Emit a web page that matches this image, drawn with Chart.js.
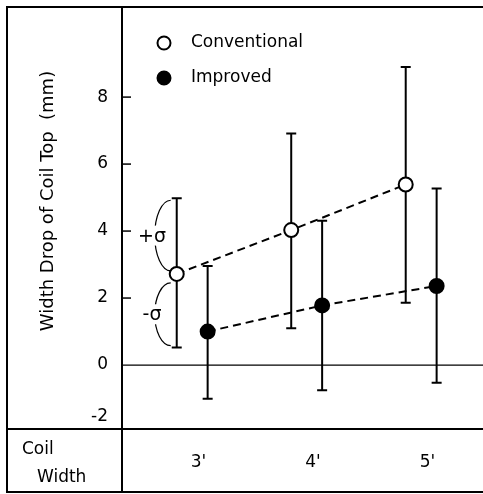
<!DOCTYPE html>
<html>
<head>
<meta charset="utf-8">
<script src="https://cdn.jsdelivr.net/npm/chart.js@4/dist/chart.umd.min.js"></script>
<style>
   body { margin: 0; background: #fff; }
   canvas { display: block; }
</style>
</head>
<body>
<canvas id="myChart" width="483" height="494"></canvas>
<script>
// coil width categories (feet)
let widths = [3, 4, 5];
let widthLabels = ["3'", "4'", "5'"];

// width drop of coil top (mm): mean, mean + sigma, mean - sigma
let convMean = [2.72, 4.03, 5.39];
let convUpper = [4.98, 6.91, 8.9];
let convLower = [0.52, 1.1, 1.86];

let impMean = [1.0, 1.78, 2.36];
let impUpper = [2.96, 4.31, 5.27];
let impLower = [-1.01, -0.75, -0.53];

let yTicks = [-2, 0, 2, 4, 6, 8];

// small shift so the two series sit side by side
let convShift = -0.19;
let impShift = 0.08;

let font = "17px 'DejaVu Sans'";

function toPoints(vals, shift) {
   return widths.map((w, i) => ({ x: w + shift, y: vals[i] }));
}

// frame, axis ticks, error bars, legend and labels
let figurePlugin = {
   id: "figure",
   beforeDatasetsDraw(chart) {
      let ctx = chart.ctx;
      let area = chart.chartArea;
      let xs = chart.scales.x;
      let ys = chart.scales.y;
      ctx.save();
      ctx.strokeStyle = "#000";

      // outer frame and table lines
      ctx.lineWidth = 2;
      ctx.beginPath();
      ctx.moveTo(chart.width, 7);
      ctx.lineTo(7, 7);
      ctx.lineTo(7, 492);
      ctx.lineTo(chart.width, 492);
      ctx.moveTo(area.left, 7);
      ctx.lineTo(area.left, 492);
      ctx.moveTo(7, area.bottom);
      ctx.lineTo(chart.width, area.bottom);
      ctx.stroke();

      // zero line
      ctx.lineWidth = 1.2;
      ctx.strokeStyle = "#000";
      let y0 = ys.getPixelForValue(0);
      ctx.beginPath();
      ctx.moveTo(area.left, y0);
      ctx.lineTo(area.right, y0);
      ctx.stroke();

      // y ticks and labels
      ctx.lineWidth = 1.5;
      ctx.fillStyle = "#000";
      ctx.font = font;
      ctx.textAlign = "right";
      ctx.textBaseline = "middle";
      yTicks.forEach((v) => {
         let py = ys.getPixelForValue(v);
         if (v > 0) {
            ctx.beginPath();
            ctx.moveTo(area.left, py);
            ctx.lineTo(area.left + 9, py);
            ctx.stroke();
         }
         ctx.fillText(String(v), 108, Math.min(py, area.bottom - 12));
      });

      // y axis title
      ctx.save();
      ctx.font = "18px 'DejaVu Sans'";
      ctx.translate(48, 201);
      ctx.rotate(-Math.PI / 2);
      ctx.textAlign = "center";
      ctx.fillText("Width Drop of Coil Top  (mm)", 0, 0);
      ctx.restore();

      // table row: coil width
      ctx.textAlign = "left";
      ctx.fillText("Coil", 22, 450);
      ctx.fillText("Width", 37, 478);
      ctx.textAlign = "center";
      widths.forEach((w, i) => {
         ctx.fillText(widthLabels[i], xs.getPixelForValue(w), 463);
      });

      // error bars
      ctx.lineWidth = 2;
      let bars = [
         [convUpper, convLower, convShift],
         [impUpper, impLower, impShift],
      ];
      bars.forEach(([up, low, shift]) => {
         widths.forEach((w, i) => {
            let px = xs.getPixelForValue(w + shift);
            let top = ys.getPixelForValue(up[i]);
            let bot = ys.getPixelForValue(low[i]);
            ctx.beginPath();
            ctx.moveTo(px, top);
            ctx.lineTo(px, bot);
            ctx.moveTo(px - 5, top);
            ctx.lineTo(px + 5, top);
            ctx.moveTo(px - 5, bot);
            ctx.lineTo(px + 5, bot);
            ctx.stroke();
         });
      });
      ctx.restore();
   },
   afterDatasetsDraw(chart) {
      let ctx = chart.ctx;
      let xs = chart.scales.x;
      let ys = chart.scales.y;
      ctx.save();

      // legend
      ctx.font = font;
      ctx.textAlign = "left";
      ctx.textBaseline = "middle";
      chart.data.datasets.forEach((ds, i) => {
         let ly = 43 + i * 35;
         ctx.beginPath();
         ctx.arc(164, ly, 6.5, 0, Math.PI * 2);
         ctx.fillStyle = ds.pointBackgroundColor;
         ctx.fill();
         ctx.lineWidth = 2;
         ctx.strokeStyle = "#000";
         ctx.stroke();
         ctx.fillStyle = "#000";
         ctx.fillText(ds.label, 191, ly);
      });

      // +sigma / -sigma braces on the first conventional point
      let px = xs.getPixelForValue(widths[0] + convShift);
      let pm = ys.getPixelForValue(convMean[0]);
      let pu = ys.getPixelForValue(convUpper[0]);
      let pl = ys.getPixelForValue(convLower[0]);
      ctx.lineWidth = 1.2;
      ctx.strokeStyle = "#000";
      ctx.font = "19px 'DejaVu Sans'";
      [[pu + 2, pm - 3, "+σ"], [pm + 9, pl - 2, "-σ"]].forEach(([a, b, txt]) => {
         let cy = (a + b) / 2;
         ctx.beginPath();
         ctx.ellipse(px - 6, cy, 16, (b - a) / 2, 0, -Math.PI / 2, Math.PI / 2, true);
         ctx.stroke();
         ctx.fillStyle = "#fff";
         ctx.fillRect(141, cy - 10, 23, 20);
         ctx.fillStyle = "#000";
         ctx.textAlign = "center";
         ctx.fillText(txt, 152, cy + 1);
      });
      ctx.restore();
   },
};

new Chart("myChart", {
   type: "line",
   data: {
      datasets: [
         {
            label: "Conventional",
            data: toPoints(convMean, convShift),
            borderColor: "#000",
            borderWidth: 2,
            borderDash: [8, 5],
            pointRadius: 7,
            pointBorderWidth: 2,
            pointBackgroundColor: "#fff",
            pointBorderColor: "#000",
         },
         {
            label: "Improved",
            data: toPoints(impMean, impShift),
            borderColor: "#000",
            borderWidth: 2,
            borderDash: [8, 5],
            pointRadius: 7,
            pointBorderWidth: 2,
            pointBackgroundColor: "#000",
            pointBorderColor: "#000",
         },
      ],
   },
   options: {
      responsive: false,
      animation: false,
      layout: {
         autoPadding: false,
         padding: { left: 122, top: 7, right: 0, bottom: 65 },
      },
      scales: {
         x: { type: "linear", min: 2.332, max: 5.485, display: false },
         y: { min: -1.91, max: 10.69, display: false },
      },
      plugins: {
         legend: { display: false },
         tooltip: { enabled: false },
      },
   },
   plugins: [figurePlugin],
});
</script>
</body>
</html>
